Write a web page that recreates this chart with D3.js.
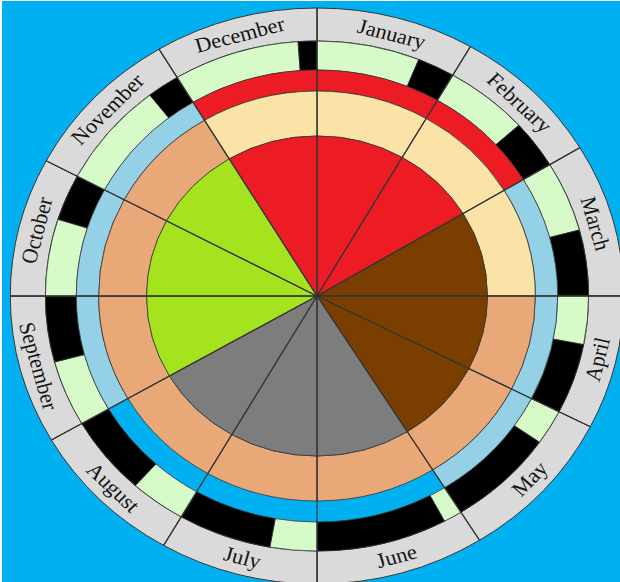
<!DOCTYPE html>
<html>
<head>
<meta charset="utf-8">
<script src="https://cdn.jsdelivr.net/npm/d3@7"></script>
<style>
  html, body { margin: 0; padding: 0; background: #ffffff; }
  svg { display: block; }
</style>
</head>
<body>
<svg id="chart" width="620" height="582"></svg>
<script>
// ---------- data ----------
const months = ["January","February","March","April","May","June",
                "July","August","September","October","November","December"];
// start angle (degrees, clockwise from 12 o'clock) of every month sector
const monthStartDeg = [0, 30, 59, 90, 117, 148, 180, 210, 240, 270, 298, 329];
// length (degrees) of the black block at the end of each month (outer band)
const blackDeg = [8, 11, 15, 16, 23, 28, 20, 18, 15, 10.5, 7, 4];
// category of each month in the inner pie
const pieCat = ["winter","winter","spring","spring","spring","summer",
                "summer","summer","autumn","autumn","autumn","winter"];
// category of each month in the second ring
const ring2Cat = ["cold","cold","cold","warm","warm","warm",
                  "warm","warm","warm","warm","warm","cold"];
// category of each month in the third ring ("none" = no band)
const ring3Cat = ["frost","frost","mild","mild","mild","none",
                  "none","none","mild","mild","mild","frost"];

// ---------- layout ----------
const W = 620, H = 582;
const cx = 317, cy = 296, sx = 1.065;
const R = { pie: 160, r2: 205, r3: 226, r4: 255, label: 288 };

const svg = d3.select("#chart");
svg.append("rect").attr("x", 2).attr("y", 1).attr("width", W - 2).attr("height", H - 1)
   .attr("fill", "#00B0F0");

const g = svg.append("g").attr("transform", `translate(${cx},${cy}) scale(${sx},1)`);

const ang = d3.scaleLinear().domain([0, 360]).range([0, 2 * Math.PI]);
const pieColor = d3.scaleOrdinal().domain(["winter","spring","summer","autumn"])
  .range(["#ED1C24", "#7A3F00", "#7D7D7D", "#A6E31F"]);
const ring2Color = d3.scaleOrdinal().domain(["cold","warm"]).range(["#FBE2A7", "#E8A878"]);
const ring3Color = d3.scaleOrdinal().domain(["frost","mild"]).range(["#ED1C24", "#94D1E6"]);
const dayColor = "#D6FAC8", nightColor = "#000000", labelColor = "#DADADA";
const lineColor = "#353535";

const monthData = months.map((m, i) => ({
  name: m,
  start: monthStartDeg[i],
  end: i < 11 ? monthStartDeg[i + 1] : 360,
  black: blackDeg[i],
  pie: pieCat[i], r2: ring2Cat[i], r3: ring3Cat[i]
}));

const arc = d3.arc();
function seg(r0, r1, a0, a1) {
  return arc({ innerRadius: r0, outerRadius: r1, startAngle: ang(a0), endAngle: ang(a1) });
}

// label band
g.selectAll("path.lab").data(monthData).join("path").attr("class", "lab")
  .attr("d", d => seg(R.r4, R.label, d.start, d.end))
  .attr("fill", labelColor).attr("stroke", lineColor).attr("stroke-width", 1)
  .attr("vector-effect", "non-scaling-stroke");

// day / night band
monthData.forEach(d => {
  const split = d.end - d.black;
  g.append("path").attr("d", seg(R.r3, R.r4, d.start, split))
    .attr("fill", dayColor).attr("stroke", lineColor).attr("stroke-width", 0.8)
    .attr("vector-effect", "non-scaling-stroke");
  g.append("path").attr("d", seg(R.r3, R.r4, split, d.end))
    .attr("fill", nightColor).attr("stroke", lineColor).attr("stroke-width", 0.8)
    .attr("vector-effect", "non-scaling-stroke");
});

// third ring
g.selectAll("path.r3").data(monthData.filter(d => d.r3 !== "none")).join("path").attr("class", "r3")
  .attr("d", d => seg(R.r2, R.r3, d.start, d.end))
  .attr("fill", d => ring3Color(d.r3)).attr("stroke", lineColor).attr("stroke-width", 0.8)
  .attr("vector-effect", "non-scaling-stroke");

// second ring
g.selectAll("path.r2").data(monthData).join("path").attr("class", "r2")
  .attr("d", d => seg(R.pie, R.r2, d.start, d.end))
  .attr("fill", d => ring2Color(d.r2)).attr("stroke", lineColor).attr("stroke-width", 0.8)
  .attr("vector-effect", "non-scaling-stroke");

// inner pie
g.selectAll("path.pie").data(monthData).join("path").attr("class", "pie")
  .attr("d", d => seg(0, R.pie, d.start, d.end))
  .attr("fill", d => pieColor(d.pie)).attr("stroke", lineColor).attr("stroke-width", 0.8)
  .attr("vector-effect", "non-scaling-stroke");

// radial month dividers
g.selectAll("line.div").data(monthData).join("line").attr("class", "div")
  .attr("x1", 0).attr("y1", 0)
  .attr("x2", d => R.label * Math.sin(ang(d.start)))
  .attr("y2", d => -R.label * Math.cos(ang(d.start)))
  .attr("stroke", lineColor).attr("stroke-width", 1.3)
  .attr("vector-effect", "non-scaling-stroke");

// month labels
const rText = 271;
g.selectAll("text.lab").data(monthData).join("text").attr("class", "lab")
  .attr("transform", d => {
    const mid = (d.start + d.end) / 2;
    const x = rText * Math.sin(ang(mid)), y = -rText * Math.cos(ang(mid));
    const rot = (mid > 90 && mid < 270) ? mid - 180 : (mid > 270 ? mid - 360 : mid);
    return `translate(${x},${y}) rotate(${rot})`;
  })
  .attr("text-anchor", "middle").attr("dominant-baseline", "central")
  .attr("font-family", "'Liberation Serif', 'Times New Roman', serif")
  .attr("font-size", 21).attr("fill", "#141414")
  .text(d => d.name);
</script>
</body>
</html>
